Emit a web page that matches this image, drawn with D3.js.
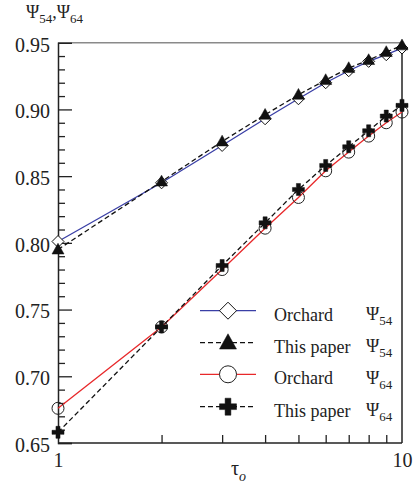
<!DOCTYPE html>
<html><head><meta charset="utf-8">
<script src="https://cdn.jsdelivr.net/npm/d3@7"></script>
<style>
body{margin:0;background:#fff}
svg{display:block}
text{font-family:"Liberation Serif","Times New Roman",serif;fill:#222}
</style>
</head><body><svg id="chart" width="415" height="488"></svg>
<script>
// relaxation time on the x axis
const tau = [1, 2, 3, 4, 5, 6, 7, 8, 9, 10];
// Psi_54 and Psi_64, Orchard vs. present model
const orchard54 = [0.801, 0.845, 0.873, 0.893, 0.908, 0.920, 0.929, 0.936, 0.941, 0.946];
const paper54   = [0.795, 0.846, 0.876, 0.896, 0.911, 0.922, 0.931, 0.937, 0.943, 0.948];
const orchard64 = [0.676, 0.737, 0.780, 0.811, 0.834, 0.854, 0.868, 0.880, 0.890, 0.898];
const paper64   = [0.658, 0.737, 0.783, 0.815, 0.840, 0.858, 0.872, 0.884, 0.895, 0.903];
const yMajor = [0.65, 0.70, 0.75, 0.80, 0.85, 0.90, 0.95];
const xMinor = [2, 3, 4, 5, 6, 7, 8, 9];
const xLabels = [1, 10];
const legendNames = ["Orchard", "This paper", "Orchard", "This paper"];
const legendSubs = ["54", "54", "64", "64"];

const svg = d3.select("#chart");
const L = 58, R = 402, T = 42.7, B = 443;
const x = d3.scaleLog().domain([1, 10]).range([L, R]);
const y = d3.scaleLinear().domain([0.65, 0.95]).range([B, T]);

// marker shapes
function diamond(s){const h=s/2;return `M0,${-h}L${h},0L0,${h}L${-h},0Z`;}
function triangle(s){const h=s/2;return `M0,${-h*1.05}L${h},${h*0.75}L${-h},${h*0.75}Z`;}
function circle(s){const r=s/2;return `M${r},0A${r},${r} 0 1,1 ${-r},0A${r},${r} 0 1,1 ${r},0Z`;}
function plus(s){const h=s/2,t=s*0.17;return `M${-t},${-h}H${t}V${-t}H${h}V${t}H${t}V${h}H${-t}V${t}H${-h}V${-t}H${-t}Z`;}

const series = [
  {vals: orchard54, color:"#3a3fa6", dash:null, shape:diamond, fill:"#fff", stroke:"#111", sw:1},
  {vals: paper54, color:"#111", dash:"5,3", shape:triangle, fill:"#111", stroke:"#111", sw:0.5},
  {vals: orchard64, color:"#e8282a", dash:null, shape:circle, fill:"none", stroke:"#222", sw:1},
  {vals: paper64, color:"#111", dash:"5,3", shape:plus, fill:"#111", stroke:"#111", sw:0.5}
];

// y axis: major and minor ticks drawn inward
const minorY = d3.range(65, 96).map(v => v/100).filter(v => Math.round(v*100) % 5 !== 0);
const gyMinor = svg.append("g").attr("transform",`translate(${L},0)`)
  .call(d3.axisLeft(y).tickValues(minorY).tickSize(-7).tickFormat(""));
const gy = svg.append("g").attr("transform",`translate(${L},0)`)
  .call(d3.axisLeft(y).tickValues(yMajor).tickSize(-14).tickPadding(8).tickFormat(d3.format(".2f")));
gy.selectAll("text").attr("font-size",20).attr("dy","0.42em").style("fill","#222");

// x axis: minor decade ticks and end labels
const gxMinor = svg.append("g").attr("transform",`translate(0,${B})`)
  .call(d3.axisBottom(x).tickValues(xMinor).tickSize(-8).tickFormat(""));
const gx = svg.append("g").attr("transform",`translate(0,${B})`)
  .call(d3.axisBottom(x).tickValues(xLabels).tickSize(0).tickPadding(10).tickFormat(d3.format("d")));
gx.selectAll("text").attr("font-size",20).style("fill","#222");
gx.select(".domain").remove();
[gy, gyMinor, gxMinor].forEach(g => {
  g.selectAll("line").attr("stroke","#222").attr("stroke-width",1.3);
  g.select(".domain").attr("stroke","#222").attr("stroke-width",1.5);
});
gyMinor.select(".domain").remove();
gxMinor.select(".domain").attr("d",`M${L},0H${R}`);

// frame: grey top, dark right
svg.append("line").attr("x1",L+14).attr("x2",R).attr("y1",T).attr("y2",T)
  .attr("stroke","#8a8a8a").attr("stroke-width",1.5);
svg.append("line").attr("x1",R).attr("x2",R).attr("y1",T).attr("y2",B)
  .attr("stroke","#222").attr("stroke-width",1.5);

// data lines and markers
const line = d3.line().x((d,i) => x(tau[i])).y(d => y(d));
series.forEach(s => {
  svg.append("path").attr("d", line(s.vals)).attr("fill","none")
    .attr("stroke", s.color).attr("stroke-width",1.3)
    .attr("stroke-dasharray", s.dash);
  svg.append("g").selectAll("path").data(s.vals).join("path")
    .attr("transform",(d,i) => `translate(${x(tau[i])},${y(d)})`)
    .attr("d", s.shape(12)).attr("fill", s.fill).attr("stroke", s.stroke).attr("stroke-width", s.sw);
});

// legend
const rowY = [310.7, 342.7, 374.3, 406.7];
series.forEach((s, i) => {
  const g = svg.append("g").attr("transform",`translate(0,${rowY[i]})`);
  g.append("line").attr("x1",200).attr("x2",256).attr("y1",0).attr("y2",0)
    .attr("stroke", s.color).attr("stroke-width",1.3).attr("stroke-dasharray", s.dash);
  g.append("path").attr("transform","translate(228,0)").attr("d", s.shape(17))
    .attr("fill", s.fill === "none" ? "#fff" : s.fill).attr("stroke", s.stroke).attr("stroke-width", s.sw);
  g.append("text").attr("x",274).attr("y",10).attr("font-size",18).text(legendNames[i]);
  const t = g.append("text").attr("x",366).attr("y",9.5).attr("font-size",18);
  t.append("tspan").text("Ψ");
  t.append("tspan").attr("dy",5).attr("font-size",13).text(legendSubs[i]);
});

// axis titles
const yt = svg.append("text").attr("x",26).attr("y",18).attr("font-size",18);
yt.append("tspan").text("Ψ");
yt.append("tspan").attr("dy",5).attr("font-size",13).text("54");
yt.append("tspan").attr("dy",-5).text(",Ψ");
yt.append("tspan").attr("dy",5).attr("font-size",13).text("64");

const xt = svg.append("text").attr("x",231).attr("y",475).attr("font-size",20);
xt.append("tspan").text("τ");
xt.append("tspan").attr("dy",6).attr("font-size",14).attr("font-style","italic").text("o");
</script>
</body></html>
